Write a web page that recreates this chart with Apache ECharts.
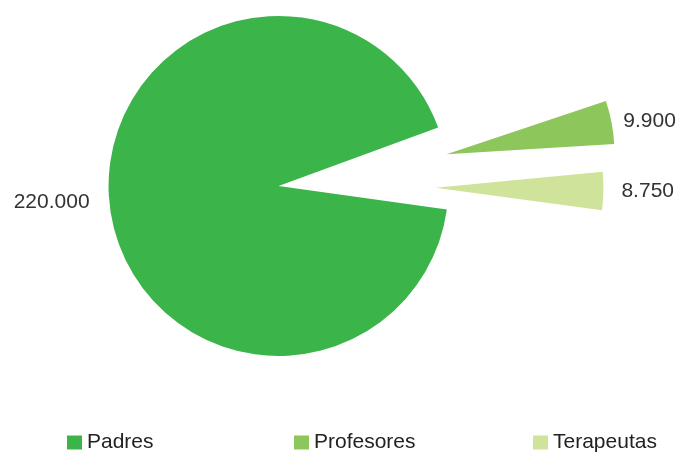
<!DOCTYPE html>
<html><head><meta charset="utf-8">
<script src="https://cdn.jsdelivr.net/npm/echarts@6/dist/echarts.min.js"></script>
<style>html,body{margin:0;padding:0;background:#fff}#c{width:680px;height:452px}</style>
</head><body><div id="c"></div>
<script>
const categories = ['Padres', 'Profesores', 'Terapeutas'];
const values = [220000, 9900, 8750];
const colors = ['#3bb54a', '#8dc65b', '#cfe39b'];

function fmt(v) {
  return String(v).replace(/\B(?=(\d{3})+(?!\d))/g, '.');
}

const offsets = [9, 162, 148];
const startAngles = [-8, -9.7, -7.7];
const radii = [170, 168, 168];
const labelLen = [15, 7, 13];
const labelDy = [-3, 0, 0];
const legendLeft = [62, 289, 528];

const chart = echarts.init(document.getElementById('c'), null, { renderer: 'canvas' });
const font = { fontFamily: '"Liberation Sans", Arial, sans-serif', fontSize: 21, color: '#333' };

const series = categories.map((name, i) => ({
  type: 'pie',
  center: [287.5, 185],
  radius: radii[i],
  startAngle: startAngles[i],
  clockwise: true,
  selectedMode: 'multiple',
  selectedOffset: offsets[i],
  avoidLabelOverlap: false,
  silent: true,
  animation: false,
  emphasis: { disabled: true },
  select: { itemStyle: { borderWidth: 0 } },
  itemStyle: { borderWidth: 0 },
  labelLine: { show: false, length: labelLen[i], length2: 0 },
  labelLayout: { dy: labelDy[i] },
  data: categories.map((n, j) => ({
    name: n,
    value: values[j],
    selected: j === i,
    itemStyle: { color: j === i ? colors[j] : 'rgba(0,0,0,0)', borderWidth: 0 },
    label: Object.assign({ show: j === i, position: 'outside', formatter: fmt(values[j]) }, font)
  }))
}));

const legends = categories.map((n, i) => ({
  left: legendLeft[i],
  top: 427,
  orient: 'horizontal',
  itemWidth: 15,
  itemHeight: 14,
  icon: 'rect',
  itemGap: 0,
  selectedMode: false,
  textStyle: Object.assign({}, font, { color: '#222' }),
  data: [{ name: n, itemStyle: { color: colors[i] } }]
}));

chart.setOption({
  backgroundColor: '#fff',
  animation: false,
  legend: legends,
  series: series
});
</script>
</body></html>
